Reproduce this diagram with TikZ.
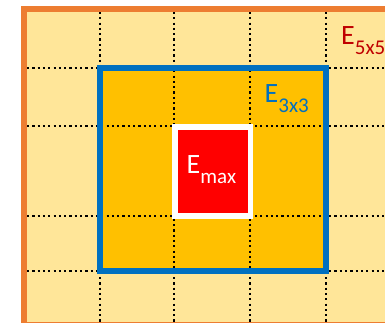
\documentclass[tikz,border=0pt]{standalone}
\usepackage{fontspec}
\setmainfont{Carlito}
\definecolor{lightgold}{HTML}{FFE699}
\definecolor{goldfill}{HTML}{FFC000}
\definecolor{orangeb}{HTML}{ED7D31}
\definecolor{blueb}{HTML}{0070C0}
\definecolor{redfill}{HTML}{FF0000}
\definecolor{darkred}{HTML}{C00000}
\tikzset{
  gridline/.style={black, line width=2pt, dash pattern=on 2.2pt off 3.1pt},
  lbl/.style={inner sep=0pt, anchor=base west, font=\fontsize{28}{28}\selectfont},
}
\newcommand{\mysub}[1]{\raisebox{-10pt}{\fontsize{21}{21}\selectfont #1}}
\begin{document}
\begin{tikzpicture}[x=1pt,y=-1pt]
\useasboundingbox (0,0) rectangle (385,323);
\clip (0,0) rectangle (385,323);
% outer 5x5 area
\fill[lightgold] (24,9) rectangle (400,330);
% 3x3 area
\fill[goldfill] (99.7,68) rectangle (325.5,270.5);
% grid lines
\foreach \x in {99.7,174,250,325.5} \draw[gridline] (\x,12) -- (\x,323);
\foreach \y in {68,126,216,270.5} \draw[gridline] (27,\y) -- (385,\y);
% borders
\draw[orangeb, line width=6pt] (24,9) rectangle (400,325);
\draw[blueb, line width=6pt] (99.7,68) rectangle (325.5,270.5);
% max cell
\draw[white, line width=5.5pt, fill=redfill] (175,127) rectangle (250.5,216);
% labels
\node[lbl, text=darkred] (e5) at (341,45) {E\mysub{5x5}};
\node[lbl, text=blueb] (e3) at (264.5,103) {E\mysub{3x3}};
\node[lbl, text=white] (em) at (186.5,173.5) {E\mysub{max}};
\end{tikzpicture}
\end{document}
